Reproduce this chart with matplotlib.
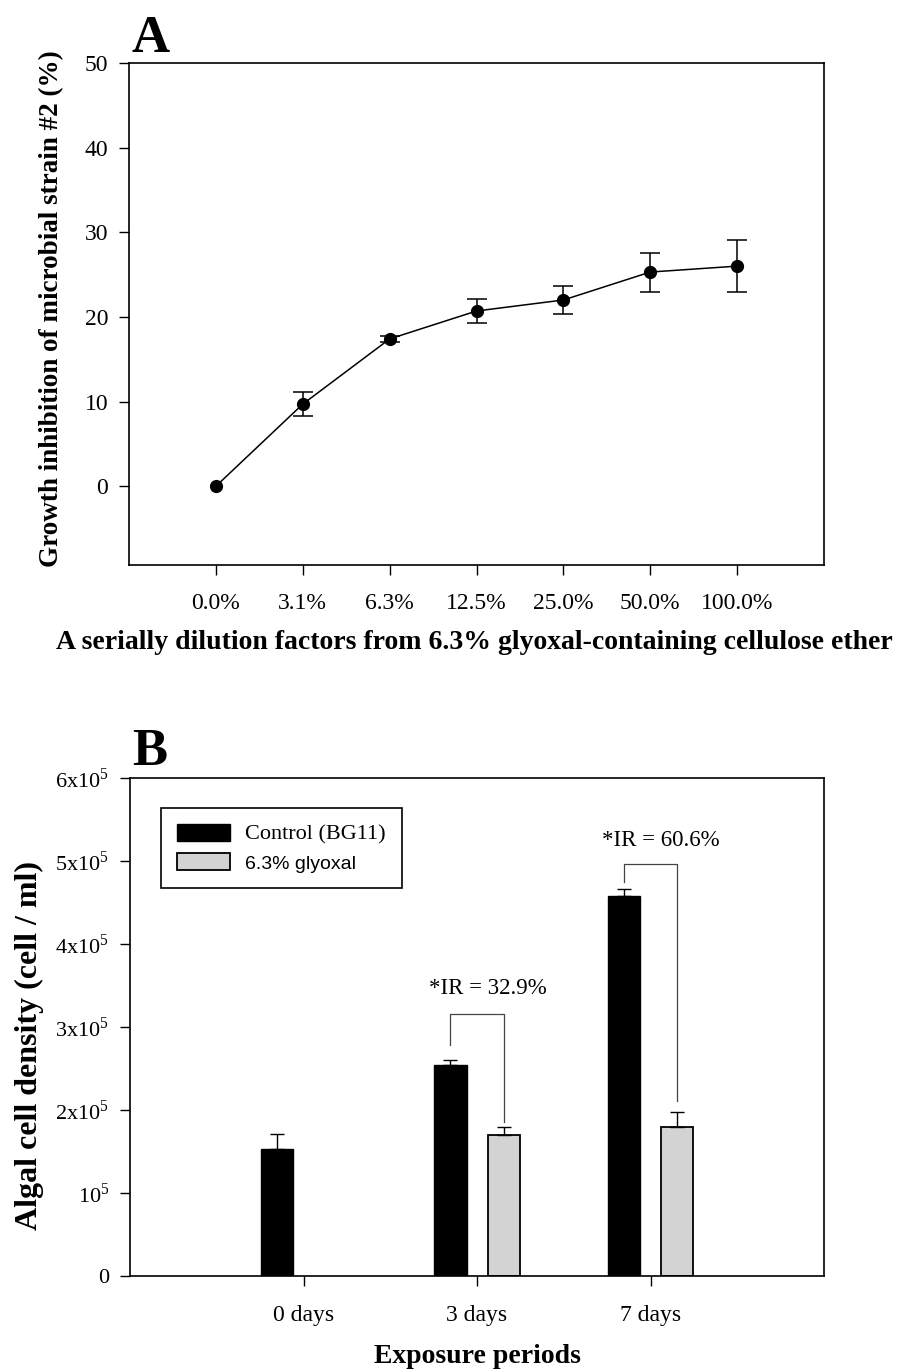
import numpy as np
import matplotlib
matplotlib.use('Agg')
import matplotlib.pyplot as plt
from matplotlib.patches import Patch

plt.rcParams['font.family'] = 'Liberation Serif'
plt.rcParams['mathtext.fontset'] = 'custom'
plt.rcParams['mathtext.rm'] = 'Liberation Serif'

# panel A data
dilutions = ['0.0%', '3.1%', '6.3%', '12.5%', '25.0%', '50.0%', '100.0%']
inhibition = [0.0, 9.7, 17.4, 20.7, 22.0, 25.3, 26.0]
inhibition_err = [np.nan, 1.45, 0.4, 1.45, 1.7, 2.3, 3.05]

# panel B data
periods = ['0 days', '3 days', '7 days']
control = [1.53e5, 2.54e5, 4.58e5]
control_err = [0.18e5, 0.06e5, 0.08e5]
glyoxal = [np.nan, 1.70e5, 1.80e5]
glyoxal_err = [np.nan, 0.095e5, 0.175e5]

# inhibition-rate brackets (group index, label, top, left bottom, right bottom)
ir_groups = [1, 2]
ir_labels = ['*IR = 32.9%', '*IR = 60.6%']
ir_top = [3.16e5, 4.96e5]
ir_left_bottom = [2.78e5, 4.75e5]
ir_right_bottom = [1.86e5, 2.11e5]
ir_text_y = [3.47e5, 5.25e5]

fig = plt.figure(figsize=(8.99, 13.71), dpi=100)

# ---------------- panel A ----------------
axA = fig.add_axes([0.1435, 0.5879, 0.7731, 0.3662])
x = np.arange(len(dilutions))
axA.errorbar(x, inhibition, yerr=inhibition_err, color='black', lw=1.1,
             marker='o', markersize=8.5, capsize=7, capthick=1.1, elinewidth=1.1)
axA.set_xlim(-1, 7)
axA.set_ylim(-9.3, 50)
axA.set_xticks(x)
axA.set_xticklabels(dilutions)
axA.set_yticks([0, 10, 20, 30, 40, 50])
axA.tick_params(axis='x', length=7, width=1, pad=13, labelsize=17)
axA.tick_params(axis='y', length=7, width=1, pad=8, labelsize=17)
for s in axA.spines.values():
    s.set_linewidth(1.2)
axA.set_ylabel('Growth inhibition of microbial strain #2 (%)', fontsize=19.5, fontweight='bold')
axA.yaxis.set_label_coords(-0.111, 0.51)
axA.yaxis.label.set_va('center')
axA.set_xlabel('A serially dilution factors from 6.3% glyoxal-containing cellulose ether',
               fontsize=20, fontweight='bold')
axA.xaxis.set_label_coords(0.497, -0.155)
axA.xaxis.label.set_va('center')
fig.text(132 / 899, 1 - 52 / 1371, 'A', fontsize=38, fontweight='bold', va='baseline')

# ---------------- panel B ----------------
axB = fig.add_axes([0.1446, 0.0693, 0.772, 0.3632])
g = np.arange(1, len(periods) + 1)
off = 0.153
w = 0.185
axB.bar(g - off, control, w, color='black', edgecolor='black', linewidth=1,
        label='Control (BG11)')
axB.errorbar(g - off, control, yerr=[np.zeros(3), control_err], fmt='none',
             ecolor='black', elinewidth=1, capsize=5, capthick=1)
axB.bar(g + off, glyoxal, w, color='#d3d3d3', edgecolor='black', linewidth=1.3,
        label='6.3% glyoxal')
axB.errorbar(g + off, glyoxal, yerr=[np.zeros(3), glyoxal_err], fmt='none',
             ecolor='black', elinewidth=1, capsize=5, capthick=1)

for i, k in enumerate(ir_groups):
    xl = g[k] - off
    xr = g[k] + off
    axB.plot([xl, xl, xr, xr], [ir_left_bottom[i], ir_top[i], ir_top[i], ir_right_bottom[i]],
             color='#444444', lw=0.9)
    axB.text(g[k] + 0.06, ir_text_y[i], ir_labels[i], fontsize=16.5, ha='center', va='center')

axB.set_xlim(0, 4)
axB.set_ylim(0, 6e5)
axB.set_xticks(g)
axB.set_xticklabels(periods)
yt = [0, 1e5, 2e5, 3e5, 4e5, 5e5, 6e5]
ytl = ['0', r'10$^{5}$', r'2x10$^{5}$', r'3x10$^{5}$', r'4x10$^{5}$', r'5x10$^{5}$', r'6x10$^{5}$']
axB.set_yticks(yt)
axB.set_yticklabels(ytl)
axB.tick_params(axis='x', length=7, width=1, pad=14, labelsize=17)
axB.tick_params(axis='y', length=7, width=1, pad=8, labelsize=16)
for s in axB.spines.values():
    s.set_linewidth(1.2)
axB.set_ylabel('Algal cell density (cell / ml)', fontsize=23, fontweight='bold')
axB.yaxis.set_label_coords(-0.145, 0.462)
axB.yaxis.label.set_va('center')
axB.set_xlabel('Exposure periods', fontsize=20, fontweight='bold')
axB.xaxis.set_label_coords(0.5, -0.161)
axB.xaxis.label.set_va('center')

handles = [Patch(facecolor='black', edgecolor='black'),
           Patch(facecolor='#d3d3d3', edgecolor='black', linewidth=1.3)]
leg = axB.legend(handles, ['Control (BG11)', '6.3% glyoxal'], loc='upper left',
                 bbox_to_anchor=(0.0447, 0.9398), borderaxespad=0, fancybox=False,
                 edgecolor='black', framealpha=1, fontsize=16, handlelength=2.4,
                 handleheight=0.8, labelspacing=0.35, borderpad=0.7, handletextpad=0.7)
leg.get_frame().set_linewidth(1.2)
leg.get_texts()[1].set_fontfamily('Liberation Sans')
leg.get_texts()[1].set_fontsize(14)
fig.text(132 / 899, 1 - 765 / 1371, 'B', fontsize=38, fontweight='bold', va='baseline')

fig.savefig('out.png', dpi=100)
